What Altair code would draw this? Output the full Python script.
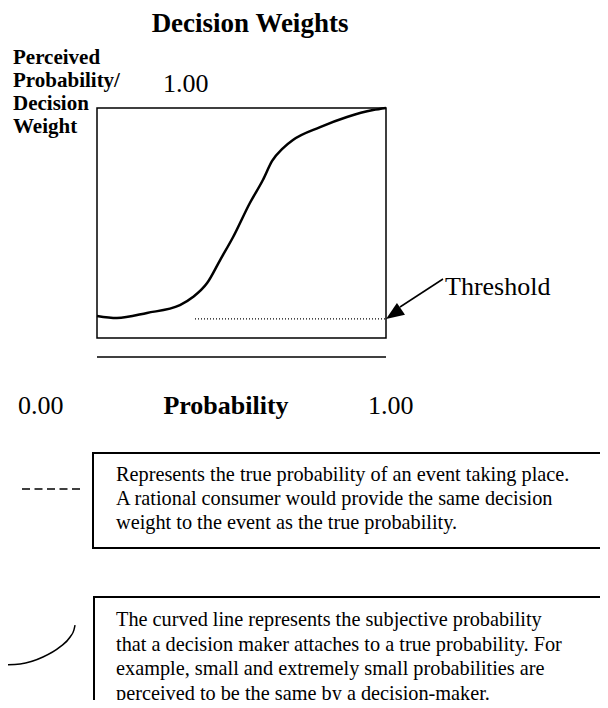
import altair as alt
import pandas as pd

FONT = "Liberation Serif"

# S-shaped decision-weight curve (true probability -> perceived weight)
prob = [0.0, 0.069, 0.173, 0.287, 0.332, 0.381, 0.426, 0.471, 0.529, 0.574,
        0.606, 0.644, 0.678, 0.772, 0.865, 0.955, 1.0]
weight = [0.096, 0.087, 0.109, 0.143, 0.178, 0.239, 0.339, 0.439, 0.587, 0.687,
          0.770, 0.826, 0.861, 0.917, 0.961, 0.991, 1.0]

# threshold (dotted) line
thr_start = [0.339]
thr_end = [1.0]
thr_level = [0.083]

# small curved-line legend sample (same units as the main chart)
legend_curve_p = [-0.336, -0.266, -0.187, -0.128, -0.093, -0.080, -0.076]
legend_curve_w = [-1.422, -1.417, -1.387, -1.343, -1.300, -1.270, -1.248]

title_text = "Decision Weights"
ylabel_lines = ["Perceived", "Probability/", "Decision", "Weight"]
xlabel_text = "Probability"
tick_labels = ["0.00", "1.00"]
threshold_text = "Threshold"
box1_lines = [
    "Represents the true probability of an event taking place.",
    "A rational consumer would provide the same decision",
    "weight to the event as the true probability.",
]
box2_lines = [
    "The curved line represents the subjective probability",
    "that a decision maker attaches to a true probability. For",
    "example, small and extremely small probabilities are",
    "perceived to be the same by a decision-maker.",
]

curve_df = pd.DataFrame({"p": prob, "w": weight})
thr_df = pd.DataFrame({"p": thr_start, "p2": thr_end, "w": thr_level})
leg_df = pd.DataFrame({"p": legend_curve_p, "w": legend_curve_w})
one = pd.DataFrame({"k": [0]})

xs = alt.Scale(domain=[0, 1], nice=False, zero=False)
ys = alt.Scale(domain=[0, 1], nice=False, zero=False)

curve = alt.Chart(curve_df).mark_line(
    color="black", strokeWidth=2.5, interpolate="monotone"
).encode(
    x=alt.X("p:Q", scale=xs, axis=None),
    y=alt.Y("w:Q", scale=ys, axis=None),
    order="p:Q",
)

threshold = alt.Chart(thr_df).mark_rule(
    color="black", strokeWidth=1.2, strokeDash=[1, 2]
).encode(
    x=alt.X("p:Q", scale=xs, axis=None),
    x2="p2:Q",
    y=alt.Y("w:Q", scale=ys, axis=None),
)

arrow_head = alt.Chart(thr_df).mark_point(
    shape="M0,-1L-0.8,1L0.8,1Z", filled=True, color="black", opacity=1,
    size=324, angle=236, xOffset=7.5, yOffset=-5,
).encode(
    x=alt.X("p2:Q", scale=xs, axis=None),
    y=alt.Y("w:Q", scale=ys, axis=None),
)

arrow_line = alt.Chart(one).mark_rule(color="black", strokeWidth=1.5).encode(
    x=alt.value(303), y=alt.value(199), x2=alt.value(346), y2=alt.value(171)
)

legend_curve = alt.Chart(leg_df).mark_line(
    color="black", strokeWidth=1.5, interpolate="monotone"
).encode(
    x=alt.X("p:Q", scale=xs, axis=None),
    y=alt.Y("w:Q", scale=ys, axis=None),
    order=alt.Order("p:Q"),
)


def label(text, x, y, size, weight="normal", align="left", line_height=None):
    kw = dict(text=text, fontSize=size, fontWeight=weight, font=FONT,
              align=align, baseline="alphabetic", color="black")
    if line_height is not None:
        kw["lineHeight"] = line_height
    return alt.Chart(one).mark_text(**kw).encode(x=alt.value(x), y=alt.value(y))


title = label(title_text, 153, -76, 27, "bold", "center")
ylabel = label(ylabel_lines, -84, -44, 21, "bold", line_height=23)
top_tick = label(tick_labels[1], 66, -16, 26)
thr_label = label(threshold_text, 348, 187, 26)
x0 = label(tick_labels[0], -79, 306, 26)
xlab = label(xlabel_text, 129, 306, 26, "bold", "center")
x1 = label(tick_labels[1], 271, 306, 26)

base_line = alt.Chart(one).mark_rule(color="black", strokeWidth=1.5).encode(
    x=alt.value(0), x2=alt.value(289), y=alt.value(249)
)

dash_legend = alt.Chart(one).mark_rule(
    color="black", strokeWidth=1.5, strokeDash=[8, 4.5]
).encode(x=alt.value(-75), x2=alt.value(-17), y=alt.value(381))

box1 = alt.Chart(one).mark_rect(filled=False, stroke="black", strokeWidth=2).encode(
    x=alt.value(-4), x2=alt.value(520), y=alt.value(345), y2=alt.value(440)
)
box1_text = label(box1_lines, 19, 373, 20.3, line_height=24)

box2 = alt.Chart(one).mark_rect(filled=False, stroke="black", strokeWidth=2).encode(
    x=alt.value(-3), x2=alt.value(520), y=alt.value(489), y2=alt.value(620)
)
box2_text = label(box2_lines, 19, 518, 20.3, line_height=24.5)

chart = alt.layer(
    curve, threshold, arrow_line, arrow_head, legend_curve,
    title, ylabel, top_tick, thr_label, x0, xlab, x1,
    base_line, dash_legend, box1, box1_text, box2, box2_text,
).properties(
    width=289, height=230,
    padding={"left": 89, "top": 100, "right": 214, "bottom": 362},
    autosize=alt.AutoSizeParams(type="none"),
).configure_view(stroke="black", strokeWidth=1.5)

chart.save("out.html", embed_options={"renderer": "svg", "actions": False})
